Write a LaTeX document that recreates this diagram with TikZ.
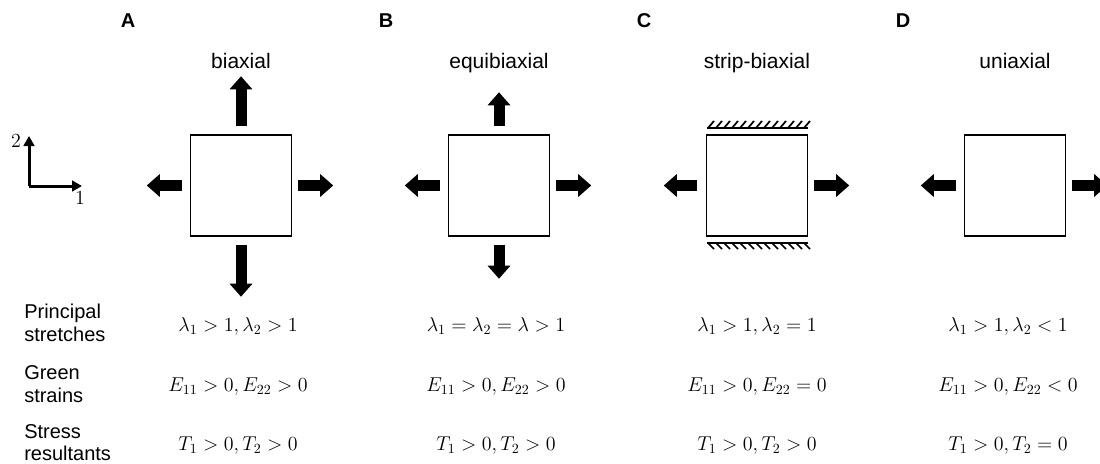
\RequirePackage{fix-cm}
\documentclass[tikz,border=0pt]{standalone}
\usepackage{amsmath}
\usepackage[no-math]{fontspec}
\setmainfont{Liberation Sans}
\usetikzlibrary{arrows.meta,calc}

\begin{document}
\begin{tikzpicture}[x=0.75pt,y=0.75pt,yscale=-1,xscale=1,
    sample/.style={draw,line width=1.1pt,minimum size=75.75pt,inner sep=0pt},
    pull/.style={line width=8.25pt,-{Triangle[length=9.75pt,width=16.5pt]}},
    axis/.style={line width=2.25pt,-{Triangle[length=7.5pt,width=8pt]}},
    axislabel/.style={inner sep=0pt,font=\fontsize{15}{17}\selectfont},
    clamp/.style={line width=1.1pt},
    hatch/.style={line width=1.3pt},
    title/.style={anchor=base,font=\fontsize{15.75}{19}\selectfont},
    panel/.style={anchor=base,font=\fontsize{15}{18}\selectfont\bfseries},
    rowlabel/.style={align=left,anchor=west,inner sep=0pt,font=\fontsize{15}{16.75}\selectfont},
    cond/.style={anchor=base,font=\fontsize{15}{18}\selectfont}]
\useasboundingbox (0,0) rectangle (1100,464);

%Axes
\coordinate (orig) at (29,186);
\coordinate (e1) at (82,186);
\coordinate (e2) at (29,136);
\draw[axis] (orig) -- (e1);
\draw[axis] (orig) -- (e2);
\node[axislabel] (lab1) at (80,198) {$1$};
\node[axislabel] (lab2) at (16,141) {$2$};

%Panel letters and titles
\node[panel] (pA) at (128,27) {A};
\node[panel] (pB) at (386,27) {B};
\node[panel] (pC) at (644,27) {C};
\node[panel] (pD) at (903,27) {D};
\node[title] (tA) at (241,68) {biaxial};
\node[title] (tB) at (499,68) {equibiaxial};
\node[title] (tC) at (757,68) {strip-biaxial};
\node[title] (tD) at (1015,68) {uniaxial};

%Shape: Squares
\node[sample] (sqA) at (241,185.5) {};
\node[sample] (sqB) at (499,185.5) {};
\node[sample] (sqC) at (757,185.5) {};
\node[sample] (sqD) at (1015,185.5) {};

%Block arrows A
\draw[pull] ($(sqA.north)+(0,-8)$) -- ($(sqA.north)+(0,-58)$);
\draw[pull] ($(sqA.south)+(0,8)$) -- ($(sqA.south)+(0,60)$);
\draw[pull] ($(sqA.west)+(-8,0)$) -- ($(sqA.west)+(-43,0)$);
\draw[pull] ($(sqA.east)+(6,0)$) -- ($(sqA.east)+(41,0)$);
%Block arrows B
\draw[pull] ($(sqB.north)+(0,-8)$) -- ($(sqB.north)+(0,-42)$);
\draw[pull] ($(sqB.south)+(0,8)$) -- ($(sqB.south)+(0,42)$);
\draw[pull] ($(sqB.west)+(-8,0)$) -- ($(sqB.west)+(-43,0)$);
\draw[pull] ($(sqB.east)+(6,0)$) -- ($(sqB.east)+(41,0)$);
%Block arrows C
\draw[pull] ($(sqC.west)+(-9,0)$) -- ($(sqC.west)+(-42,0)$);
\draw[pull] ($(sqC.east)+(6,0)$) -- ($(sqC.east)+(41,0)$);
%Block arrows D
\draw[pull] ($(sqD.west)+(-8,0)$) -- ($(sqD.west)+(-43,0)$);
\draw[pull] ($(sqD.east)+(6,0)$) -- ($(sqD.east)+(41,0)$);

%Clamps C
\draw[clamp] (706.5,128) -- (807.5,128);
\draw[clamp] (706.5,243) -- (807.5,243);
\foreach \hx in {708,716,...,804}{
  \draw[hatch] (\hx,128) -- (\hx+6,121);
  \draw[hatch] (\hx,243) -- (\hx+6,249);
}

%Row labels
\node[rowlabel] (rowS) at (24,323) {Principal\\stretches};
\node[rowlabel] (rowE) at (24,384) {Green\\strains};
\node[rowlabel] (rowT) at (24,442.5) {Stress\\resultants};

%Conditions
\node[cond] (sA) at (238,331) {$\lambda_1>1,\lambda_2>1$};
\node[cond] (sB) at (496,331) {$\lambda_1=\lambda_2=\lambda>1$};
\node[cond] (sC) at (757,331) {$\lambda_1>1,\lambda_2=1$};
\node[cond] (sD) at (1008,331) {$\lambda_1>1,\lambda_2<1$};
\node[cond] (eA) at (238,391) {$E_{11}>0,E_{22}>0$};
\node[cond] (eB) at (496,391) {$E_{11}>0,E_{22}>0$};
\node[cond] (eC) at (757,391) {$E_{11}>0,E_{22}=0$};
\node[cond] (eD) at (1008,391) {$E_{11}>0,E_{22}<0$};
\node[cond] (fA) at (238,450) {$T_1>0,T_2>0$};
\node[cond] (fB) at (496,450) {$T_1>0,T_2>0$};
\node[cond] (fC) at (757,450) {$T_1>0,T_2>0$};
\node[cond] (fD) at (1008,450) {$T_1>0,T_2=0$};
\end{tikzpicture}
\end{document}
